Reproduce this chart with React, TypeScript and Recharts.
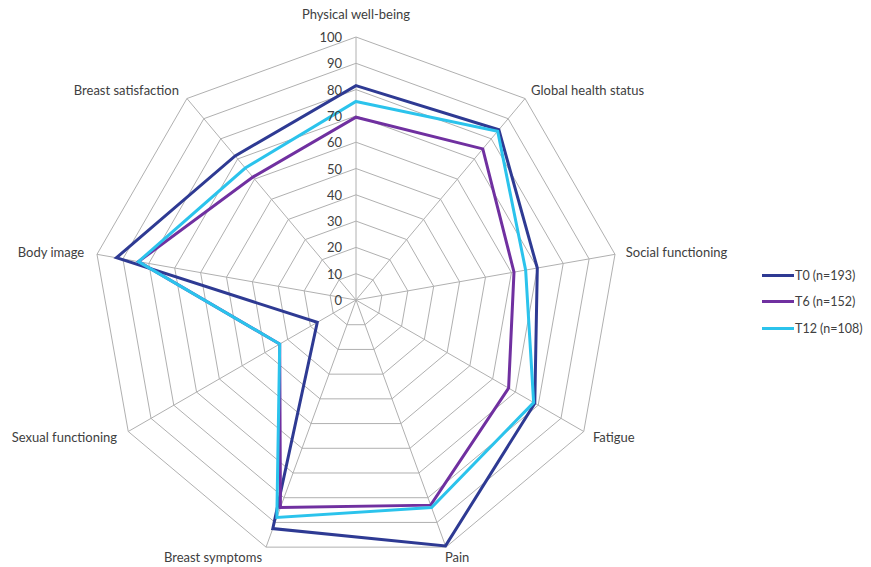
import { RadarChart, Radar, PolarGrid, PolarAngleAxis, PolarRadiusAxis } from 'recharts'

const categories = [
    'Physical well-being',
    'Global health status',
    'Social functioning',
    'Fatigue',
    'Pain',
    'Breast symptoms',
    'Sexual functioning',
    'Body image',
    'Breast satisfaction',
]

const t0 = [81.5, 84.5, 70, 78.5, 99.5, 92.5, 17, 92.5, 71.5]
const t6 = [69.5, 75, 61, 67, 83, 84, 33.5, 84, 61]
const t12 = [75.5, 83.8, 65.5, 78, 84, 88, 33.5, 84, 65.5]

const radiusTicks = [0, 10, 20, 30, 40, 50, 60, 70, 80, 90, 100]

const series = [
    { key: 't0', name: 'T0 (n=193)', color: '#2E3A93' },
    { key: 't6', name: 'T6 (n=152)', color: '#7030A0' },
    { key: 't12', name: 'T12 (n=108)', color: '#2BC3EC' },
]

const data = categories.map((c, i) => ({ category: c, t0: t0[i], t6: t6[i], t12: t12[i] }))

const CX = 356
const CY = 300
const R = 263
const FONT = 'Lato, "Open Sans", sans-serif'
const TEXT = '#404040'

// category labels sit just outside each spoke, anchored away from the centre
const AngleTick = (props: any) => {
    const { payload, index } = props
    const theta = (index * 2 * Math.PI) / categories.length
    const s = Math.sin(theta)
    const c = Math.cos(theta)
    const vx = CX + R * s
    const vy = CY - R * c
    let anchor: 'start' | 'end' | 'middle' = 'middle'
    let dx = 0
    if (s > 0.01) anchor = 'start'
    if (s < -0.01) anchor = 'end'
    if (Math.abs(s) > 0.5) dx = s > 0 ? s * 14 - 3 : s * 14 + 1
    else if (Math.abs(s) > 0.01) dx = s > 0 ? -1 : -4
    let dy = -c * 11
    if (index === 0) dy = -23
    return (
        <text x={vx + dx} y={vy + dy} textAnchor={anchor} dominantBaseline="central"
            fontSize={13} fontFamily={FONT} fill={TEXT}>
            {payload.value}
        </text>
    )
}

const RadiusTick = (props: any) => {
    const { x, y, payload } = props
    return (
        <text x={x - 14} y={y} textAnchor="end" dominantBaseline="central"
            fontSize={13} fontFamily={FONT} fill={TEXT}>
            {payload.value}
        </text>
    )
}

export default function App() {
    return (
        <div style={{ position: 'relative', width: 871, height: 567, background: '#fff' }}>
            <style>{'body{margin:0}'}</style>
            <RadarChart width={871} height={567} data={data} cx={CX} cy={CY} outerRadius={R}
                margin={{ top: 0, right: 0, bottom: 0, left: 0 }}>
                <PolarGrid gridType="polygon" stroke="#b0b0b0" strokeWidth={1} />
                <PolarAngleAxis dataKey="category" tick={AngleTick} tickLine={false} axisLine={false} />
                <PolarRadiusAxis angle={90} domain={[0, 100]} ticks={radiusTicks as any} tickCount={11}
                    axisLine={false} tickLine={false} tick={RadiusTick} />
                {series.map(s => (
                    <Radar key={s.key} dataKey={s.key} name={s.name} stroke={s.color} strokeWidth={3}
                        fill="none" fillOpacity={0} dot={false} isAnimationActive={false} />
                ))}
            </RadarChart>
            {/* legend on the right */}
            <div style={{ position: 'absolute', left: 762, top: 262, fontFamily: FONT, fontSize: 12.5, color: TEXT }}>
                {series.map(s => (
                    <div key={s.key} style={{ display: 'flex', alignItems: 'center', height: 26.5 }}>
                        <span style={{ display: 'inline-block', width: 32, height: 3, background: s.color, marginRight: 1 }} />
                        <span>{s.name}</span>
                    </div>
                ))}
            </div>
        </div>
    )
}
